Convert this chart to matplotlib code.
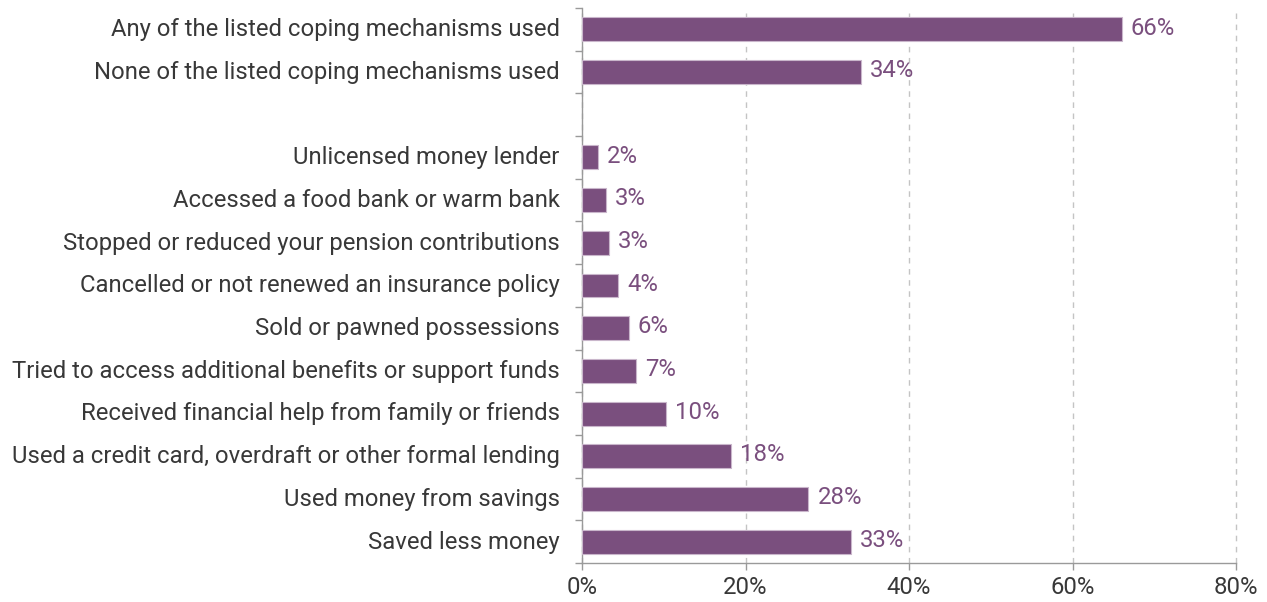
import matplotlib
matplotlib.use("Agg")
import matplotlib.pyplot as plt
from matplotlib.ticker import FixedLocator, PercentFormatter

plt.rcParams['font.family'] = ['Roboto', 'DejaVu Sans']

# Coping mechanisms (top to bottom); None marks the spacer row between groups
categories = [
    "Any of the listed coping mechanisms used",
    "None of the listed coping mechanisms used",
    None,
    "Unlicensed money lender",
    "Accessed a food bank or warm bank",
    "Stopped or reduced your pension contributions",
    "Cancelled or not renewed an insurance policy",
    "Sold or pawned possessions",
    "Tried to access additional benefits or support funds",
    "Received financial help from family or friends",
    "Used a credit card, overdraft or other formal lending",
    "Used money from savings",
    "Saved less money",
]
values = [66.0, 34.1, None, 2.0, 2.9, 3.3, 4.4, 5.7, 6.6, 10.3, 18.2, 27.7, 32.9]
x_ticks = [0, 20, 40, 60, 80]

bar_color = "#7a4f7e"
text_color = "#383838"
label_size = 17.2

fig = plt.figure(figsize=(12.67, 6.02), dpi=100)
ax = fig.add_axes([582 / 1267, 1 - 563 / 602, (1236 - 582) / 1267, (563 - 8) / 602])

n = len(categories)
for i, (cat, val) in enumerate(zip(categories, values)):
    if cat is None:
        continue
    ax.barh(i, val, height=0.56, color=bar_color, edgecolor="#c9b6cb", linewidth=0.8, zorder=3)
    ax.text(val + 1.1, i - 0.03, f"{val:.0f}%", va="center", ha="left",
            color=bar_color, fontsize=label_size, zorder=4)

ax.set_ylim(n - 0.5, -0.5)
ax.set_xlim(0, 80)

ax.set_yticks([i - 0.05 for i, c in enumerate(categories) if c is not None])
ax.set_yticklabels([c for c in categories if c is not None], fontsize=label_size,
                   color=text_color)
ax.tick_params(axis="y", which="major", length=0, pad=16)
ax.yaxis.set_minor_locator(FixedLocator([i - 0.5 for i in range(n + 1)]))
ax.tick_params(axis="y", which="minor", length=5, width=1, color="#9a9a9a")

ax.xaxis.set_major_locator(FixedLocator(x_ticks))
ax.xaxis.set_major_formatter(PercentFormatter(decimals=0))
ax.tick_params(axis="x", length=5, width=1, color="#9a9a9a", labelsize=label_size,
               labelcolor=text_color, pad=4)

ax.grid(axis="x", linestyle=(0, (4, 4)), color="#c4c4c4", linewidth=1, zorder=0)
for gl in ax.xaxis.get_gridlines():
    gl.set_clip_on(False)
for s in ["top", "right"]:
    ax.spines[s].set_visible(False)
for s in ["left", "bottom"]:
    ax.spines[s].set_color("#9a9a9a")
    ax.spines[s].set_linewidth(1)

fig.savefig("out.png", dpi=100)
